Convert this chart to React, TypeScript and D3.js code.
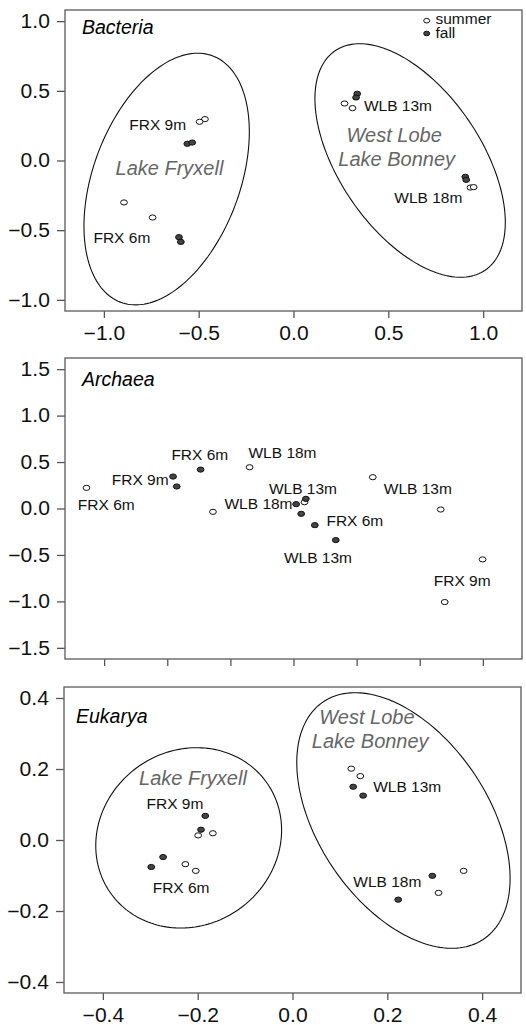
import React, { useEffect, useRef } from "react";
import * as d3 from "d3";

type Pt = [number, number];
type Lbl = [string, number, number];
type Ell = { cx: number; cy: number; sx: number; sy: number; r: number };

// ---- Bacteria ----
const bacSummer: Pt[] = [
  [-0.467, 0.297], [-0.495, 0.278], [-0.894, -0.301], [-0.743, -0.409],
  [0.269, 0.409], [0.311, 0.376], [0.933, -0.194], [0.95, -0.191],
];
const bacFall: Pt[] = [
  [-0.56, 0.12], [-0.534, 0.129], [-0.604, -0.55], [-0.594, -0.584],
  [0.336, 0.479], [0.33, 0.452], [0.906, -0.117], [0.911, -0.139],
];
const bacLabels: Lbl[] = [
  ["FRX 9m", -0.716, 0.258],
  ["FRX 6m", -0.905, -0.55],
  ["WLB 13m", 0.551, 0.393],
  ["WLB 18m", 0.711, -0.266],
];
const bacLakes: Lbl[] = [
  ["Lake Fryxell", -0.654, -0.055],
  ["West Lobe", 0.531, 0.185],
  ["Lake Bonney", 0.544, 0.01],
];
const bacEllipses: Ell[] = [
  { cx: -0.669, cy: -0.133, sx: 0.436, sy: 0.903, r: 0.375 },
  { cx: 0.615, cy: 0.0, sx: 0.502, sy: 0.838, r: -0.53 },
];

// ---- Archaea ----
const arcSummer: Pt[] = [
  [-1.64, 0.222], [-0.348, 0.444], [-0.638, -0.036], [0.628, 0.337],
  [1.166, -0.011], [1.498, -0.548], [1.198, -1.007], [0.087, 0.068],
];
const arcFall: Pt[] = [
  [-0.954, 0.344], [-0.925, 0.237], [-0.736, 0.419], [0.021, 0.047],
  [0.098, 0.104], [0.061, -0.057], [0.169, -0.179], [0.335, -0.34],
];
const arcLabels: Lbl[] = [
  ["FRX 6m", -1.483, 0.043],
  ["FRX 9m", -1.214, 0.312],
  ["FRX 6m", -0.742, 0.581],
  ["WLB 18m", -0.087, 0.606],
  ["WLB 13m", 0.075, 0.219],
  ["WLB 18m", -0.277, 0.057],
  ["WLB 13m", 0.985, 0.215],
  ["FRX 6m", 0.486, -0.125],
  ["WLB 13m", 0.194, -0.523],
  ["FRX 9m", 1.336, -0.771],
];

// ---- Eukarya ----
const eukSummer: Pt[] = [
  [-0.199, 0.013], [-0.168, 0.019], [-0.226, -0.068], [-0.204, -0.087],
  [0.124, 0.201], [0.143, 0.18], [0.361, -0.087], [0.308, -0.149],
];
const eukFall: Pt[] = [
  [-0.184, 0.068], [-0.193, 0.029], [-0.273, -0.048], [-0.298, -0.076],
  [0.128, 0.15], [0.149, 0.125], [0.295, -0.101], [0.223, -0.168],
];
const eukLabels: Lbl[] = [
  ["FRX 9m", -0.248, 0.102],
  ["FRX 6m", -0.235, -0.135],
  ["WLB 13m", 0.242, 0.151],
  ["WLB 18m", 0.2, -0.117],
];
const eukLakes: Lbl[] = [
  ["Lake Fryxell", -0.21, 0.175],
  ["West Lobe", 0.157, 0.347],
  ["Lake Bonney", 0.164, 0.28],
];
const eukEllipses: Ell[] = [
  { cx: -0.219, cy: 0.006, sx: 0.196, sy: 0.254, r: 0.086 },
  { cx: 0.234, cy: 0.055, sx: 0.225, sy: 0.36, r: -0.453 },
];

const bacXTicks = [-1.0, -0.5, 0.0, 0.5, 1.0];
const bacYTicks = [-1.0, -0.5, 0.0, 0.5, 1.0];
const arcXTicks = [-1.5, -1.0, -0.5, 0.0, 0.5, 1.0, 1.5];
const arcYTicks = [-1.5, -1.0, -0.5, 0.0, 0.5, 1.0, 1.5];
const eukXTicks = [-0.4, -0.2, 0.0, 0.2, 0.4];
const eukYTicks = [-0.4, -0.2, 0.0, 0.2, 0.4];

const legendItems = ["summer", "fall"];

const FONT = "'Liberation Sans', Arial, Helvetica, sans-serif";

const panels = [
  {
    title: "Bacteria", tx: 82, ty: 34,
    box: { x0: 65, x1: 522, y0: 10, y1: 311 },
    xd: [-1.205, 1.205], yd: [-1.08, 1.08],
    xt: bacXTicks, yt: bacYTicks, xlab: true,
    summer: bacSummer, fall: bacFall, labels: bacLabels, lakes: bacLakes,
    ellipses: bacEllipses, legend: true,
  },
  {
    title: "Archaea", tx: 82, ty: 386,
    box: { x0: 65, x1: 522, y0: 358, y1: 659 },
    xd: [-1.81, 1.81], yd: [-1.62, 1.62],
    xt: arcXTicks, yt: arcYTicks, xlab: false,
    summer: arcSummer, fall: arcFall, labels: arcLabels, lakes: [] as Lbl[],
    ellipses: [] as Ell[], legend: false,
  },
  {
    title: "Eukarya", tx: 76, ty: 723,
    box: { x0: 64, x1: 521, y0: 687, y1: 993 },
    xd: [-0.482, 0.482], yd: [-0.431, 0.431],
    xt: eukXTicks, yt: eukYTicks, xlab: true,
    summer: eukSummer, fall: eukFall, labels: eukLabels, lakes: eukLakes,
    ellipses: eukEllipses, legend: false,
  },
];

export default function App() {
  const ref = useRef<SVGSVGElement | null>(null);

  useEffect(() => {
    const svg = d3.select(ref.current);
    svg.selectAll("*").remove();

    panels.forEach((p) => {
      const g = svg.append("g");
      const x = d3.scaleLinear().domain(p.xd).range([p.box.x0, p.box.x1]);
      const y = d3.scaleLinear().domain(p.yd).range([p.box.y1, p.box.y0]);

      // group ellipses (covariance-style: half extents + correlation)
      p.ellipses.forEach((e) => {
        const ts = d3.range(0, 2 * Math.PI, Math.PI / 90);
        const q = Math.sqrt(1 - e.r * e.r);
        const path = d3
          .line<number>()
          .x((t) => x(e.cx + e.sx * Math.cos(t)))
          .y((t) => y(e.cy + e.sy * (e.r * Math.cos(t) + q * Math.sin(t))))
          .curve(d3.curveLinearClosed);
        g.append("path")
          .attr("d", path(ts))
          .attr("fill", "none")
          .attr("stroke", "#111")
          .attr("stroke-width", 1.1);
      });

      // axes
      const yAxis = g
        .append("g")
        .attr("transform", `translate(${p.box.x0},0)`)
        .call(
          d3.axisLeft(y).tickValues(p.yt).tickSize(8).tickPadding(6)
            .tickFormat((d) => d3.format(".1f")(d as number))
        );
      const xAxis = g
        .append("g")
        .attr("transform", `translate(0,${p.box.y1})`)
        .call(
          d3.axisBottom(x).tickValues(p.xt).tickSize(7).tickPadding(8)
            .tickFormat((d) => (p.xlab ? d3.format(".1f")(d as number) : ""))
        );
      [yAxis, xAxis].forEach((a) => {
        a.select(".domain").remove();
        a.selectAll("line").attr("stroke", "#555").attr("stroke-width", 1.3);
        a.selectAll("text")
          .attr("fill", "#111")
          .style("font-family", FONT)
          .style("font-size", "19.5px");
      });
      yAxis.selectAll("text").attr("transform", "scale(1.08,1)");
      xAxis.selectAll("text").attr("transform", "scale(1.08,1)");

      // box
      g.append("rect")
        .attr("x", p.box.x0)
        .attr("y", p.box.y0)
        .attr("width", p.box.x1 - p.box.x0)
        .attr("height", p.box.y1 - p.box.y0)
        .attr("fill", "none")
        .attr("stroke", "#666")
        .attr("stroke-width", 1.4);

      // lake names
      g.selectAll(".lake")
        .data(p.lakes)
        .join("text")
        .attr("x", (d) => x(d[1]))
        .attr("y", (d) => y(d[2]))
        .attr("dy", "0.35em")
        .attr("text-anchor", "middle")
        .attr("fill", "#666")
        .style("font-family", FONT)
        .style("font-style", "italic")
        .style("font-size", "20px")
        .text((d) => d[0]);

      // sample labels
      g.selectAll(".lbl")
        .data(p.labels)
        .join("text")
        .attr("x", (d) => x(d[1]))
        .attr("y", (d) => y(d[2]))
        .attr("dy", "0.35em")
        .attr("text-anchor", "middle")
        .attr("fill", "#111")
        .style("font-family", FONT)
        .style("font-size", "15.5px")
        .text((d) => d[0]);

      // points
      g.selectAll(".s")
        .data(p.summer)
        .join("ellipse")
        .attr("cx", (d) => x(d[0]))
        .attr("cy", (d) => y(d[1]))
        .attr("rx", 3.4)
        .attr("ry", 2.6)
        .attr("fill", "#fff")
        .attr("stroke", "#111")
        .attr("stroke-width", 1);
      g.selectAll(".f")
        .data(p.fall)
        .join("ellipse")
        .attr("cx", (d) => x(d[0]))
        .attr("cy", (d) => y(d[1]))
        .attr("rx", 3.4)
        .attr("ry", 2.6)
        .attr("fill", "#444")
        .attr("stroke", "#111")
        .attr("stroke-width", 1);

      // title
      g.append("text")
        .attr("x", p.tx)
        .attr("y", p.ty)
        .attr("fill", "#000")
        .style("font-family", FONT)
        .style("font-style", "italic")
        .style("font-size", "19.5px")
        .text(p.title);

      if (p.legend) {
        const lg = g.append("g");
        legendItems.forEach((name, i) => {
          lg.append("ellipse")
            .attr("cx", 426.7)
            .attr("cy", 20.7 + i * 12.8)
            .attr("rx", 3)
            .attr("ry", 2.3)
            .attr("fill", i === 0 ? "#fff" : "#444")
            .attr("stroke", "#111")
            .attr("stroke-width", 1);
          lg.append("text")
            .attr("x", 435.5)
            .attr("y", 24 + i * 14)
            .attr("fill", "#111")
            .style("font-family", FONT)
            .style("font-size", "15.5px")
            .text(name);
        });
      }
    });
  }, []);

  return (
    <div style={{ position: "absolute", left: 0, top: 0 }}>
      <svg ref={ref} width={526} height={1025} style={{ display: "block", background: "#fff" }} />
    </div>
  );
}
